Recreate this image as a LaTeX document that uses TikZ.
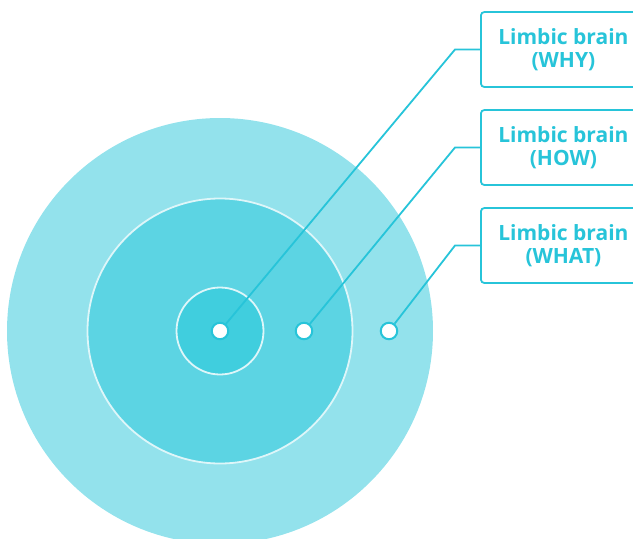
\documentclass[tikz,border=0pt]{standalone}
\usepackage{fontspec}
\setmainfont{Open Sans}
\definecolor{ringout}{HTML}{93E2EC}
\definecolor{ringmid}{HTML}{5CD4E3}
\definecolor{ringin}{HTML}{40CEDE}
\definecolor{accent}{HTML}{27C4D9}
\begin{document}
\begin{tikzpicture}[x=1pt,y=-1pt,
  ring/.style={draw=white!80!ringmid,line width=1.8pt},
  dot/.style={circle,draw=accent,fill=white,line width=2pt,minimum size=16.5pt,inner sep=0pt},
  label/.style={draw=accent,line width=1.8pt,rounded corners=3.5pt,fill=white,
    minimum width=165pt,minimum height=75pt,anchor=west,align=center,
    text=accent,font=\fontsize{21}{23.5}\selectfont\bfseries,inner sep=0pt},
  link/.style={draw=accent,line width=1.8pt}]
\useasboundingbox (0,0) rectangle (633,539);
\clip (0,0) rectangle (633,539);
% concentric rings
\fill[ringout] (220,331) circle (213);
\filldraw[fill=ringmid,ring] (220,331) circle (132.5);
\filldraw[fill=ringin,ring] (220,331) circle (43.5);
% labels
\node[label] (why)  at (480,49.5)  {Limbic brain\\(WHY)};
\node[label] (how)  at (480,147.5) {Limbic brain\\(HOW)};
\node[label] (what) at (480,245.5) {Limbic brain\\(WHAT)};
% bends of the leader lines
\coordinate (k1) at (455,49.5);
\coordinate (k2) at (455,147.5);
\coordinate (k3) at (455,245.5);
% markers
\node[dot] (d1) at (220,331) {};
\node[dot] (d2) at (304,331) {};
\node[dot] (d3) at (389,331) {};
% leader lines
\draw[link] (d1) -- (k1) -- (why.west);
\draw[link] (d2) -- (k2) -- (how.west);
\draw[link] (d3) -- (k3) -- (what.west);
\end{tikzpicture}
\end{document}
